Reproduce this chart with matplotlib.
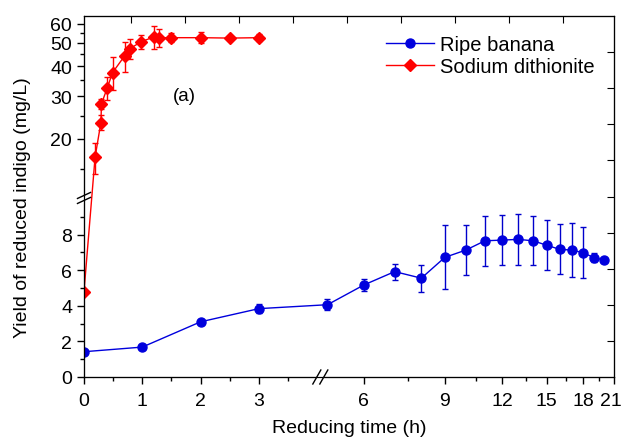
import numpy as np
import matplotlib
matplotlib.use("Agg")
import matplotlib.pyplot as plt
import matplotlib.transforms as mtransforms
from matplotlib.ticker import FixedLocator, NullFormatter

plt.rcParams['font.family'] = ['Liberation Sans', 'DejaVu Sans']

# ripe banana (h, mg/L)
banana_t = [0, 1, 2, 3, 5, 6, 7, 8, 9, 10, 11, 12, 13, 14, 15, 16, 17, 18, 19, 20]
banana_y = [1.42, 1.68, 3.1, 3.84, 4.06, 5.17, 5.92, 5.55, 6.72, 7.13, 7.65, 7.69,
            7.73, 7.65, 7.4, 7.17, 7.13, 6.98, 6.7, 6.57]
banana_err = [0.1, 0.1, 0.1, 0.27, 0.3, 0.35, 0.45, 0.75, 1.8, 1.4, 1.4, 1.4,
              1.42, 1.38, 1.4, 1.4, 1.5, 1.42, 0.25, 0.1]

# sodium dithionite
dith_t = [0, 0.19, 0.29, 0.30, 0.40, 0.49, 0.70, 0.79, 0.98, 1.2, 1.28, 1.5, 2, 2.5, 3]
dith_y = [4.8, 16.8, 23.4, 28.0, 32.6, 37.7, 44.3, 47.4, 50.6, 53.0, 52.6, 52.6, 52.6, 52.4, 52.6]
dith_err = [0, 2.5, 1.7, 1.3, 3.6, 5.9, 6.4, 4.5, 3.6, 6.0, 4.4, 2.2, 2.8, 1.0, 1.8]

xticks = [0, 1, 2, 3, 6, 9, 12, 15, 18, 21]
xminor = [0.5, 1.5, 2.5, 3.5, 7.5, 10.5, 13.5, 16.5, 19.5]
yticks = [0, 2, 4, 6, 8, 20, 30, 40, 50, 60]
yminor = [1, 3, 5, 7, 9, 15, 25, 35, 45, 55]


# broken x axis: linear 0-4, log from 4.9 on
def fx(x):
    x = np.asarray(x, dtype=float)
    p49 = 280.4 + 200 * np.log(4.9 / 6)
    lo = 58.4 * x
    mid = 233.6 + (x - 4) / 0.9 * (p49 - 233.6)
    hi = 280.4 + 200 * np.log(np.maximum(x, 1e-6) / 6)
    return np.where(x <= 4, lo, np.where(x < 4.9, mid, hi))


def ifx(p):
    p = np.asarray(p, dtype=float)
    p49 = 280.4 + 200 * np.log(4.9 / 6)
    lo = p / 58.4
    mid = 4 + (p - 233.6) / (p49 - 233.6) * 0.9
    hi = 6 * np.exp((p - 280.4) / 200)
    return np.where(p <= 233.6, lo, np.where(p < p49, mid, hi))


# broken y axis: linear 0-10, log from 11.5 on
def fy(y):
    y = np.asarray(y, dtype=float)
    lo = 17.8 * y
    mid = 178 + (y - 10) / 1.5 * 2
    hi = 238 + 104.7 * np.log(np.maximum(y, 1e-6) / 20)
    return np.where(y <= 10, lo, np.where(y < 11.5, mid, hi))


def ify(p):
    p = np.asarray(p, dtype=float)
    lo = p / 17.8
    mid = 10 + (p - 178) / 2 * 1.5
    hi = 20 * np.exp((p - 238) / 104.7)
    return np.where(p <= 178, lo, np.where(p < 180, mid, hi))


fig = plt.figure(figsize=(6.23, 4.39), dpi=100)
ax = fig.add_axes([84 / 623, 61 / 439, 530 / 623, 361 / 439])
ax.set_xscale('function', functions=(fx, ifx))
ax.set_yscale('function', functions=(fy, ify))
ax.set_xlim(0, 21)
ax.set_ylim(0, 64.7)

ax.errorbar(banana_t, banana_y, yerr=banana_err, fmt='none', ecolor='#0000cc',
            elinewidth=1, capsize=2.5, capthick=1)
ax.plot(banana_t, banana_y, color='#0000dd', lw=1, marker='o', ms=6.5,
        label='Ripe banana')
ax.errorbar(dith_t, dith_y, yerr=dith_err, fmt='none', ecolor='red',
            elinewidth=1, capsize=2.5, capthick=1)
ax.plot(dith_t, dith_y, color='red', lw=1, marker='D', ms=6,
        label='Sodium dithionite')

ax.xaxis.set_major_locator(FixedLocator(xticks))
ax.xaxis.set_minor_locator(FixedLocator(xminor))
ax.set_xticklabels([str(t) for t in xticks])
ax.xaxis.set_minor_formatter(NullFormatter())
ax.yaxis.set_major_locator(FixedLocator(yticks))
ax.yaxis.set_minor_locator(FixedLocator(yminor))
ax.set_yticklabels([str(t) for t in yticks])
ax.yaxis.set_minor_formatter(NullFormatter())
ax.tick_params(which='both', direction='out', labelsize=14, width=1, top=False, right=False)
ax.tick_params(which='major', length=5)
ax.tick_params(which='minor', length=3)
ax.tick_params(axis='x', which='major', pad=6)
ax.set_xlabel('Reducing time (h)', fontsize=14, labelpad=7)
ax.set_ylabel('Yield of reduced indigo (mg/L)', fontsize=14)
ax.yaxis.set_label_coords(-0.1, 0.471)

# last x label sits at the figure edge, nudge it in a bit
last = ax.get_xticklabels()[-1]
last.set_transform(last.get_transform() +
                   mtransforms.ScaledTranslation(-3 / 100, 0, fig.dpi_scale_trans))

ax.text(0.19, 0.78, '(a)', transform=ax.transAxes, ha='center', va='center', fontsize=13.5)

ax.legend(loc='upper left', bbox_to_anchor=(0.533, 1.0), frameon=False, fontsize=14.5,
          handlelength=2.4, handletextpad=0.3, labelspacing=0.15, borderaxespad=0.55)

# right and top axes of the other layer
ax_r = ax.twinx()
ax_r.set_ylim(0, 20)
ax_r.set_yticks(range(2, 20, 2))
ax_r.tick_params(direction='in', length=5, labelright=False)

ax_t = ax.twiny()
ax_t.set_xlim(-0.87, 8.94)
ax_t.set_xticks(range(9))
ax_t.tick_params(direction='in', length=5, labeltop=False)

# break marks
px, py = 1 / 530, 1 / 361
yb = float(fy(10.75) / fy(64.7))
for off in (-2.5, 2.5):
    ax.plot([-6.5 * px, 6.5 * px], [yb + (off - 3) * py, yb + (off + 3) * py],
            transform=ax.transAxes, color='black', lw=1, clip_on=False, zorder=6)
ax.fill([-1.5 * px, 1.5 * px, 1.5 * px, -1.5 * px],
        [yb - 2.5 * py - 2.3 * py, yb - 2.5 * py + 0.7 * py, yb + 2.5 * py + 0.7 * py, yb + 2.5 * py - 2.3 * py],
        transform=ax.transAxes, color='white', clip_on=False, zorder=5)

xb = float(fx(4.45) / fx(21))
for off in (-3.5, 3.5):
    ax.plot([xb + (off - 4) * px, xb + (off + 4) * px], [-7 * py, 7 * py],
            transform=ax.transAxes, color='black', lw=1, clip_on=False, zorder=6)
ax.fill([xb - 3.5 * px - 0.8 * px, xb + 3.5 * px - 0.8 * px, xb + 3.5 * px + 0.8 * px, xb - 3.5 * px + 0.8 * px],
        [-1.5 * py, -1.5 * py, 1.5 * py, 1.5 * py],
        transform=ax.transAxes, color='white', clip_on=False, zorder=5)

fig.savefig('out.png', dpi=100)
